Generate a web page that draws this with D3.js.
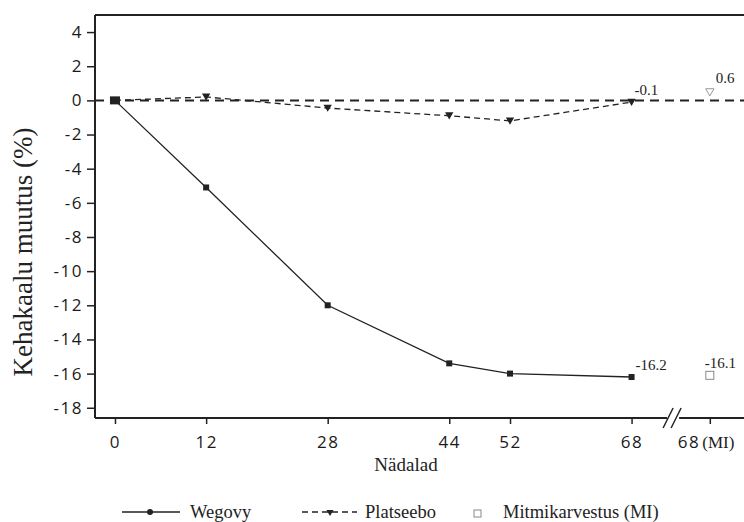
<!DOCTYPE html>
<html>
<head>
<meta charset="utf-8">
<script src="https://cdn.jsdelivr.net/npm/d3@7"></script>
<style>
  body { margin: 0; background: #fff; }
</style>
</head>
<body>
<div id="container"></div>
<script>
// data
const weeks = [0, 12, 28, 44, 52, 68];
const wegovy = [0, -5.1, -12.0, -15.4, -16.0, -16.2];
const placebo = [0, 0.2, -0.45, -0.9, -1.2, -0.1];
const miWegovy = -16.1;
const miPlacebo = 0.6;
const yTicks = [4, 2, 0, -2, -4, -6, -8, -10, -12, -14, -16, -18];
const xTickLabels = ["0", "12", "28", "44", "52", "68", "68"];
const legendNames = ["Wegovy", "Platseebo", "Mitmikarvestus (MI)"];

const width = 744, height = 522;
const mLeft = 95, mRight = 744, mTop = 15, mBottom = 418;
const miWeek = 78.3; // where the MI column sits after the axis break
const breakWeek = 73.6;

const x = d3.scaleLinear().domain([-2.63, 82.8]).range([mLeft, mRight]);
const y = d3.scaleLinear().domain([5.0, -18.6]).range([mTop, mBottom]);

const svg = d3.create("svg").attr("width", width).attr("height", height);
const ink = "#222";
const serif = "'Liberation Serif', 'Times New Roman', serif";
const sans = "'Open Sans', sans-serif";
const fmt = v => v.toFixed(1); // keep ascii hyphen like the source

// frame: top line, left axis, bottom axis
svg.append("line").attr("x1", mLeft).attr("x2", mRight).attr("y1", mTop).attr("y2", mTop)
  .attr("stroke", ink).attr("stroke-width", 2);

const yAxis = svg.append("g").attr("transform", `translate(${mLeft},0)`)
  .call(d3.axisLeft(y).tickValues(yTicks).tickFormat(d => String(d))
    .tickSize(8).tickSizeOuter(0).tickPadding(4));
yAxis.select(".domain").attr("stroke", ink).attr("stroke-width", 2)
  .attr("d", `M0,${mTop}V${mBottom}`);

const xAxis = svg.append("g").attr("transform", `translate(0,${mBottom})`)
  .call(d3.axisBottom(x).tickValues(weeks.concat([miWeek]))
    .tickFormat((d, i) => xTickLabels[i])
    .tickSize(6).tickSizeOuter(0).tickPadding(12));
xAxis.select(".domain").attr("stroke", ink).attr("stroke-width", 2)
  .attr("d", `M${mLeft},0H${mRight}`);

svg.selectAll(".tick line").attr("stroke", ink).attr("stroke-width", 1.5);
svg.selectAll(".tick text").attr("fill", "#1a1a1a")
  .style("font-family", sans).style("font-size", "17px").style("letter-spacing", "1.5px");

// MI tick: "68" sits left of the tick, "(MI)" to its right
const miTick = xAxis.selectAll(".tick").filter((d, i) => i === xTickLabels.length - 1);
miTick.select("text").attr("text-anchor", "end").attr("x", -10);
miTick.append("text").attr("x", -8).attr("y", 30).attr("text-anchor", "start").text("(MI)")
  .style("font-family", serif).style("font-size", "17px").attr("fill", ink);

// axis break marks
const bx = x(breakWeek);
svg.append("rect").attr("x", bx - 7).attr("y", mBottom - 3).attr("width", 12).attr("height", 6).attr("fill", "#fff");
[-6, 2].forEach(o => {
  svg.append("line").attr("x1", bx + o - 5).attr("y1", mBottom + 10)
    .attr("x2", bx + o + 5).attr("y2", mBottom - 10)
    .attr("stroke", ink).attr("stroke-width", 1.5);
});

// zero reference line
svg.append("line").attr("x1", mLeft).attr("x2", mRight).attr("y1", y(0)).attr("y2", y(0))
  .attr("stroke", ink).attr("stroke-width", 2).attr("stroke-dasharray", "9,6");

const line = d3.line().x(d => x(d[0])).y(d => y(d[1]));
const wData = weeks.map((w, i) => [w, wegovy[i]]);
const pData = weeks.map((w, i) => [w, placebo[i]]);

svg.append("path").datum(pData).attr("d", line).attr("fill", "none")
  .attr("stroke", ink).attr("stroke-width", 1.3).attr("stroke-dasharray", "6,4");
svg.append("path").datum(wData).attr("d", line).attr("fill", "none")
  .attr("stroke", ink).attr("stroke-width", 1.3);

const tri = d3.symbol().type(d3.symbolTriangle).size(30);
svg.selectAll(".pm").data(pData).enter().append("path")
  .attr("d", tri).attr("fill", ink)
  .attr("transform", d => `translate(${x(d[0])},${y(d[1]) - 1}) rotate(180)`);
svg.selectAll(".wm").data(wData).enter().append("rect")
  .attr("x", (d, i) => x(d[0]) - (i === 0 ? 5 : 3))
  .attr("y", (d, i) => y(d[1]) - (i === 0 ? 4 : 3))
  .attr("width", (d, i) => i === 0 ? 10 : 6)
  .attr("height", (d, i) => i === 0 ? 8 : 6)
  .attr("fill", ink);

// MI points
svg.append("path").attr("d", tri).attr("fill", "#fff").attr("stroke", "#999")
  .attr("transform", `translate(${x(miWeek)},${y(miPlacebo) + 1}) rotate(180)`);
svg.append("rect").attr("x", x(miWeek) - 4).attr("y", y(miWegovy) - 4)
  .attr("width", 8).attr("height", 8).attr("fill", "#fff").attr("stroke", "#888");

// value labels
const lab = (xx, yy, t) => svg.append("text").attr("x", xx).attr("y", yy).text(t)
  .style("font-family", serif).style("font-size", "15px").attr("fill", ink);
lab(x(68) + 3, y(placebo[5]) - 7, fmt(placebo[5]));
lab(x(miWeek) + 6, y(miPlacebo) - 7, fmt(miPlacebo));
lab(x(68) + 4, y(wegovy[5]) - 7, fmt(wegovy[5]));
lab(x(miWeek) - 5, y(miWegovy) - 7, fmt(miWegovy));

// axis titles
svg.append("text").attr("transform", `translate(32,252) rotate(-90)`)
  .attr("text-anchor", "middle").text("Kehakaalu muutus (%)")
  .style("font-family", serif).style("font-size", "27px").attr("fill", ink);
svg.append("text").attr("x", 406).attr("y", 471).attr("text-anchor", "middle").text("Nädalad")
  .style("font-family", serif).style("font-size", "19px").attr("fill", ink);

// legend
const ly = 512;
const lg = svg.append("g").style("font-family", serif).style("font-size", "18.5px");
lg.append("line").attr("x1", 122).attr("x2", 180).attr("y1", ly).attr("y2", ly).attr("stroke", ink).attr("stroke-width", 1.5);
lg.append("circle").attr("cx", 150).attr("cy", ly).attr("r", 3).attr("fill", ink);
lg.append("text").attr("x", 190).attr("y", ly + 6).text(legendNames[0]).attr("fill", ink);
lg.append("line").attr("x1", 302).attr("x2", 357).attr("y1", ly).attr("y2", ly).attr("stroke", ink)
  .attr("stroke-width", 1.3).attr("stroke-dasharray", "6,4");
lg.append("path").attr("d", d3.symbol().type(d3.symbolTriangle).size(22)).attr("fill", ink)
  .attr("transform", `translate(330,${ly}) rotate(180)`);
lg.append("text").attr("x", 365).attr("y", ly + 6).text(legendNames[1]).attr("fill", ink);
lg.append("rect").attr("x", 474).attr("y", ly - 2).attr("width", 7).attr("height", 7)
  .attr("fill", "#fff").attr("stroke", "#888");
lg.append("text").attr("x", 503).attr("y", ly + 6).text(legendNames[2]).attr("fill", ink);

document.getElementById("container").append(svg.node());
</script>
</body>
</html>
